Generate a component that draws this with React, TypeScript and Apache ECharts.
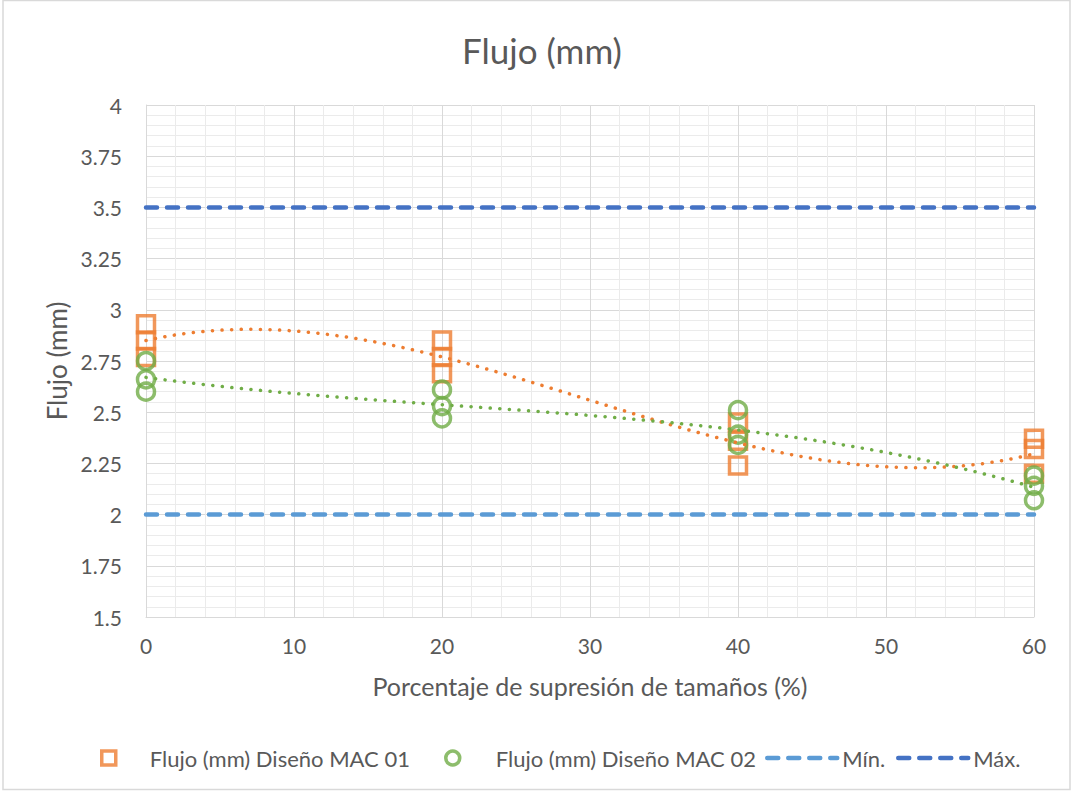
import React, { useEffect, useRef } from "react";
import * as echarts from "echarts";

// ---- data ----
const xLevels = [0, 20, 40, 60];
const mac01 = [
  [2.93, 2.85, 2.77],
  [2.85, 2.77, 2.69],
  [2.45, 2.36, 2.24],
  [2.37, 2.32, 2.2],
];
const mac02 = [
  [2.75, 2.66, 2.6],
  [2.61, 2.53, 2.47],
  [2.51, 2.39, 2.34],
  [2.19, 2.14, 2.07],
];
const minLimit = 2;
const maxLimit = 3.5;
const xRange = [0, 60];
const xInterval = 10;
const yRange = [1.5, 4];
const yInterval = 0.25;

const NAME1 = "Flujo (mm) Diseño MAC 01";
const NAME2 = "Flujo (mm) Diseño MAC 02";
const NAME_MIN = "Mín.";
const NAME_MAX = "Máx.";

const ORANGE = "#ED7D31";
const GREEN = "#70AD47";
const LBLUE = "#5B9BD5";
const DBLUE = "#4472C4";
const TXT = "#595959";
const FONT = "Lato";

function points(groups: number[][]): number[][] {
  const out: number[][] = [];
  groups.forEach((g, i) => g.forEach((v) => out.push([xLevels[i], v])));
  return out;
}

// least-squares polynomial (order 3) trendline, as Excel computes it
function polyTrend(pts: number[][], order: number): number[][] {
  const s = xRange[1];
  const n = order + 1;
  const A: number[][] = Array.from({ length: n }, () => new Array(n + 1).fill(0));
  pts.forEach(([x, y]) => {
    const t = x / s;
    for (let r = 0; r < n; r++) {
      for (let c = 0; c < n; c++) A[r][c] += Math.pow(t, r + c);
      A[r][n] += y * Math.pow(t, r);
    }
  });
  for (let i = 0; i < n; i++) {
    let p = i;
    for (let k = i + 1; k < n; k++) if (Math.abs(A[k][i]) > Math.abs(A[p][i])) p = k;
    [A[i], A[p]] = [A[p], A[i]];
    for (let k = 0; k < n; k++) {
      if (k === i) continue;
      const f = A[k][i] / A[i][i];
      for (let c = i; c <= n; c++) A[k][c] -= f * A[i][c];
    }
  }
  const coef = A.map((row, i) => row[n] / row[i]);
  const out: number[][] = [];
  for (let x = xRange[0]; x <= xRange[1] + 1e-9; x += 0.5) {
    const t = x / s;
    let y = 0;
    coef.forEach((c, k) => (y += c * Math.pow(t, k)));
    out.push([x, y]);
  }
  return out;
}

export default function App() {
  const ref = useRef<HTMLDivElement>(null);
  useEffect(() => {
    if (!ref.current) return;
    const chart = echarts.init(ref.current, undefined, { renderer: "svg" });
    const p1 = points(mac01);
    const p2 = points(mac02);
    const legendText = { fontFamily: FONT, fontSize: 22, color: TXT, lineHeight: 22 };
    const option: any = {
      animation: false,
      backgroundColor: "#ffffff",
      textStyle: { fontFamily: FONT },
      title: {
        text: "Flujo (mm)",
        left: 537,
        textAlign: "center",
        top: 27,
        textStyle: { fontFamily: FONT, fontSize: 35, fontWeight: "normal", color: TXT },
      },
      graphic: [
        {
          type: "rect",
          shape: { x: 3, y: 0.5, width: 1067, height: 789 },
          style: { fill: "none", stroke: "#D9D9D9", lineWidth: 1.5 },
          silent: true,
          z: -10,
        },
      ],
      grid: { left: 146, right: 38, top: 105, bottom: 174 },
      xAxis: {
        type: "value",
        min: xRange[0],
        max: xRange[1],
        interval: xInterval,
        name: "Porcentaje de supresión de tamaños (%)",
        nameLocation: "middle",
        nameGap: 56,
        nameTextStyle: { fontFamily: FONT, fontSize: 25, color: TXT },
        axisLine: { show: true, lineStyle: { color: "#D9D9D9", width: 1 } },
        axisTick: { show: false },
        axisLabel: { margin: 18, fontFamily: FONT, fontSize: 21, color: TXT },
        splitLine: { show: true, lineStyle: { color: "#D9D9D9", width: 1 } },
        minorTick: { show: false, splitNumber: 5 },
        minorSplitLine: { show: true, lineStyle: { color: "#EBEBEB", width: 1 } },
      },
      yAxis: {
        type: "value",
        min: yRange[0],
        max: yRange[1],
        interval: yInterval,
        name: "Flujo (mm)",
        nameLocation: "middle",
        nameGap: 75,
        nameTextStyle: { fontFamily: FONT, fontSize: 26, color: TXT },
        axisLine: { show: true, lineStyle: { color: "#D9D9D9", width: 1 } },
        axisTick: { show: false },
        axisLabel: { margin: 24, fontFamily: FONT, fontSize: 21, color: TXT },
        splitLine: { show: true, lineStyle: { color: "#D9D9D9", width: 1 } },
        minorTick: { show: false, splitNumber: 5 },
        minorSplitLine: { show: true, lineStyle: { color: "#EBEBEB", width: 1 } },
      },
      legend: [
        {
          data: [NAME1],
          left: 100,
          top: 747,
          padding: 0,
          itemWidth: 14,
          itemHeight: 14,
          textStyle: { ...legendText, padding: [0, 0, 0, 29] },
          itemStyle: { borderWidth: 3.5 },
        },
        {
          data: [NAME2],
          left: 444,
          top: 747,
          padding: 0,
          itemWidth: 14,
          itemHeight: 14,
          textStyle: { ...legendText, padding: [0, 0, 0, 31] },
          itemStyle: { borderWidth: 3.5 },
        },
        {
          data: [NAME_MIN],
          left: 765,
          top: 747,
          padding: 0,
          itemWidth: 70,
          itemHeight: 14,
          textStyle: legendText,
          lineStyle: { width: 4.5 },
          itemStyle: { opacity: 0 },
        },
        {
          data: [NAME_MAX],
          left: 896,
          top: 747,
          padding: 0,
          itemWidth: 70,
          itemHeight: 14,
          textStyle: legendText,
          lineStyle: { width: 4.5 },
          itemStyle: { opacity: 0 },
        },
      ],
      series: [
        {
          name: NAME_MIN,
          type: "line",
          data: [
            [xRange[0], minLimit],
            [xRange[1], minLimit],
          ],
          symbol: "none",
          lineStyle: { color: LBLUE, width: 4.5, type: [11, 10], cap: "round" },
          itemStyle: { color: LBLUE },
          z: 2,
        },
        {
          name: NAME_MAX,
          type: "line",
          data: [
            [xRange[0], maxLimit],
            [xRange[1], maxLimit],
          ],
          symbol: "none",
          lineStyle: { color: DBLUE, width: 4.5, type: [11, 10], cap: "round" },
          itemStyle: { color: DBLUE },
          z: 2,
        },
        {
          name: NAME1,
          type: "scatter",
          data: p1,
          symbol: "rect",
          symbolSize: 17,
          itemStyle: { color: "rgba(255,255,255,0)", borderColor: ORANGE, borderWidth: 3.5 },
          z: 3,
        },
        {
          name: NAME2,
          type: "scatter",
          data: p2,
          symbol: "circle",
          symbolSize: 17,
          itemStyle: { color: "rgba(255,255,255,0)", borderColor: GREEN, borderWidth: 3.5 },
          z: 4,
        },
        {
          name: "trend01",
          type: "line",
          data: polyTrend(p1, 3),
          symbol: "none",
          smooth: false,
          lineStyle: { color: ORANGE, width: 3.5, type: [0.1, 9.5], cap: "round" },
          z: 5,
        },
        {
          name: "trend02",
          type: "line",
          data: polyTrend(p2, 3),
          symbol: "none",
          smooth: false,
          lineStyle: { color: GREEN, width: 3.5, type: [0.1, 9.5], cap: "round" },
          z: 5,
        },
      ],
    };
    chart.setOption(option);
    return () => chart.dispose();
  }, []);
  return (
    <div
      ref={ref}
      style={{ position: "absolute", left: 0, top: 0, width: 1072, height: 791, background: "#fff" }}
    />
  );
}
